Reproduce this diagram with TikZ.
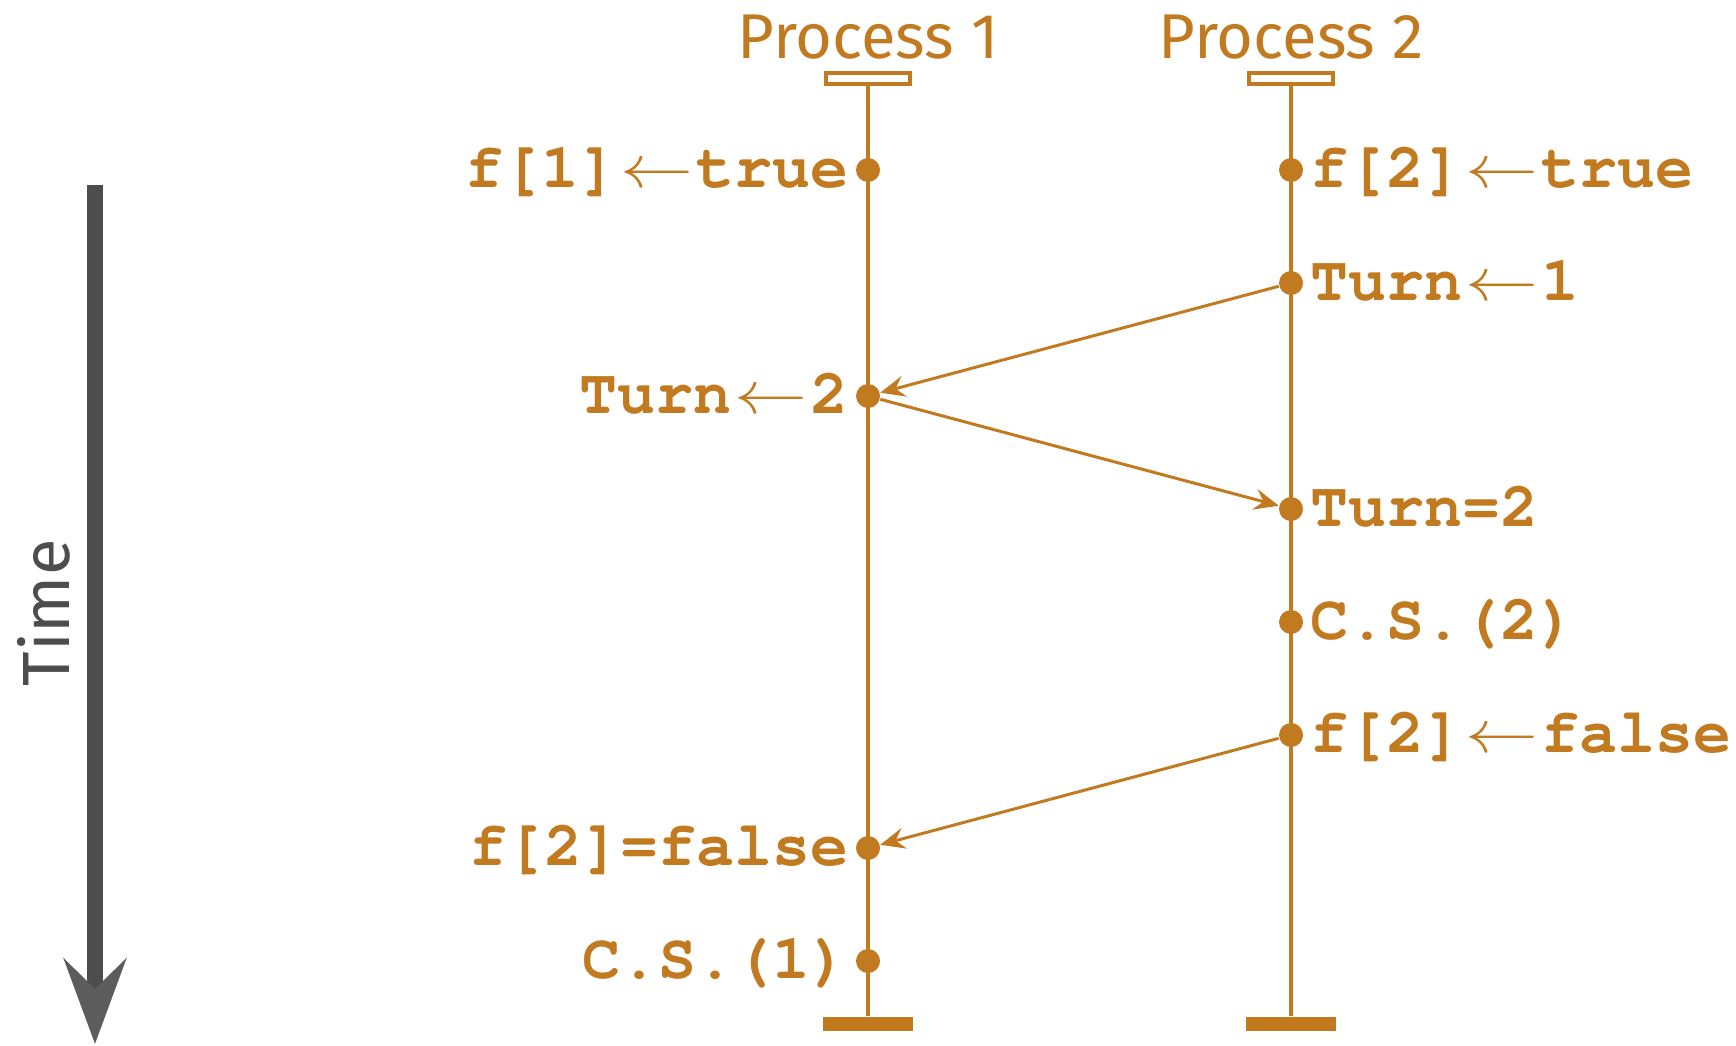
\documentclass[tikz,border=0pt]{standalone}
\usepackage[T1]{fontenc}
\usepackage{fontspec}
\usetikzlibrary{arrows.meta}

\definecolor{proc}{RGB}{193,122,32}
\definecolor{timegray}{RGB}{77,77,77}
\definecolor{timehead}{RGB}{92,92,92}

\newfontfamily\handfont{Fira Sans}
\newcommand\codefont{\fontencoding{T1}\fontfamily{pcr}\fontseries{b}\selectfont}
\newcommand\asgn{\makebox[1.25em]{\scalebox{1.2}[1]{$\leftarrow$}}}

\tikzset{
  lifeline/.style={draw=proc, line width=0.95pt},
  headbox/.style={draw=proc, line width=1pt, minimum width=0.84cm, minimum height=0.11cm, inner sep=0pt},
  footbar/.style={fill=proc, minimum width=0.9cm, minimum height=0.14cm, inner sep=0pt},
  event/.style={circle, fill=proc, inner sep=0pt, minimum size=0.24cm},
  code/.style={text=proc, font=\codefont\fontsize{18}{20}\selectfont, inner sep=0.06cm, yshift=-0.1cm},
  msg/.style={draw=proc, line width=0.85pt, -{Stealth[length=7pt, width=6pt, inset=2.5pt]}},
  procname/.style={text=proc, font=\handfont\fontsize{18}{20}\selectfont},
}

\begin{document}
\begin{tikzpicture}
    \useasboundingbox (0,0) rectangle (17.36,-10.45);

    % time axis
    \coordinate (t0) at (0.95,-1.85);
    \coordinate (t1) at (0.95,-10.44);
    \draw[timegray, line width=0.16cm, -{Stealth[length=0.85cm, width=0.62cm, inset=0.3cm, color=timehead]}] (t0) -- (t1);
    \node[rotate=90, text=timegray, font=\handfont\fontsize{19}{20}\selectfont] (time) at (0.44,-6.13) {Time};

    % the two processes
    \foreach \x/\n in {8.68/1, 12.91/2} {
        \node[procname, anchor=base] (name\n) at (\x,-0.58) {Process \n};
        \node[headbox] (top\n) at (\x,-0.785) {};
        \node[footbar] (bot\n) at (\x,-10.24) {};
        \draw[lifeline] (top\n) -- (bot\n);
    }

    % events of process 1
    \node[event] (a1) at (8.68,-1.70) {};
    \node[event] (a2) at (8.68,-3.96) {};
    \node[event] (a3) at (8.68,-8.48) {};
    \node[event] (a4) at (8.68,-9.61) {};
    \node[code, anchor=mid east] (la1) at (a1.west) {f[1]\asgn true};
    \node[code, anchor=mid east] (la2) at (a2.west) {Turn\asgn 2};
    \node[code, anchor=mid east] (la3) at (a3.west) {f[2]=false};
    \node[code, anchor=mid east] (la4) at (a4.west) {C.S.(1)};

    % events of process 2
    \node[event] (b1) at (12.91,-1.70) {};
    \node[event] (b2) at (12.91,-2.83) {};
    \node[event] (b3) at (12.91,-5.09) {};
    \node[event] (b4) at (12.91,-6.22) {};
    \node[event] (b5) at (12.91,-7.35) {};
    \node[code, anchor=mid west] (lb1) at (b1.east) {f[2]\asgn true};
    \node[code, anchor=mid west] (lb2) at (b2.east) {Turn\asgn 1};
    \node[code, anchor=mid west] (lb3) at (b3.east) {Turn=2};
    \node[code, anchor=mid west] (lb4) at (b4.east) {C.S.(2)};
    \node[code, anchor=mid west] (lb5) at (b5.east) {f[2]\asgn false};

    % messages
    \draw[msg] (b2) -- (a2);
    \draw[msg] (a2) -- (b3);
    \draw[msg] (b5) -- (a3);
\end{tikzpicture}
\end{document}
